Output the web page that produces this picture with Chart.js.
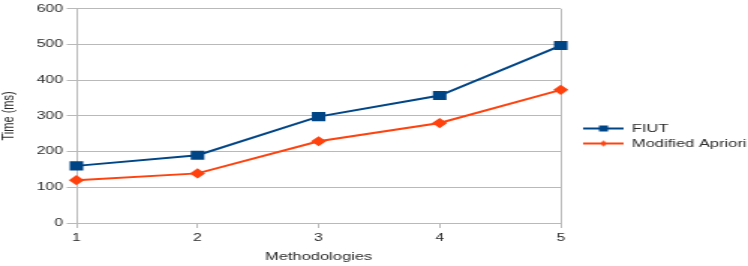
<!DOCTYPE html>
<html>
<head>
<meta charset="utf-8">
<script src="https://cdn.jsdelivr.net/npm/chart.js@4"></script>
<style>
  body { margin: 0; background: #fff; overflow: hidden; }
  /* the original figure is stretched sideways, so draw narrow and widen it */
  #wrap { width: 499px; height: 266px; transform: scaleX(1.499); transform-origin: 0 0; }
</style>
</head>
<body>
<div id="wrap"><canvas id="chart" width="499" height="266"></canvas></div>
<script>
// data
const methodologies = ['1', '2', '3', '4', '5'];
const fiutTimes = [160, 190, 298, 357, 497];
const aprioriTimes = [120, 139, 229, 280, 373];
const yTicks = [0, 100, 200, 300, 400, 500, 600];

const blue = '#004586';
const orange = '#ff420e';
const gridGray = '#b9b9b9';
const textGray = '#2b2b2b';

// little line+marker pictures for the legend
function legendIcon(color, style) {
    const c = document.createElement('canvas');
    c.width = 27;
    c.height = 10;
    const g = c.getContext('2d');
    g.strokeStyle = color;
    g.lineWidth = 2;
    g.beginPath();
    g.moveTo(0, 5);
    g.lineTo(27, 5);
    g.stroke();
    g.fillStyle = color;
    if (style === 'rect') {
        g.fillRect(10.5, 2, 6, 6);
    } else {
        g.beginPath();
        g.moveTo(13.5, 2); g.lineTo(16, 5); g.lineTo(13.5, 8); g.lineTo(11, 5);
        g.closePath();
        g.fill();
    }
    return c;
}

// move the legend a bit right and down, like the original
const legendShift = {
    id: 'legendShift',
    afterLayout(chart) {
        const lg = chart.legend;
        lg.left += 11; lg.right += 11;
        lg.top += 3; lg.bottom += 3;
    }
};

const ctx = document.getElementById('chart').getContext('2d');
new Chart(ctx, {
    type: 'line',
    data: {
        labels: methodologies,
        datasets: [
            {
                label: 'FIUT',
                data: fiutTimes,
                borderColor: blue,
                backgroundColor: blue,
                borderWidth: 2,
                pointStyle: 'rect',
                pointRadius: 5,
                pointHoverRadius: 5,
                tension: 0
            },
            {
                label: 'Modified Apriori',
                data: aprioriTimes,
                borderColor: orange,
                backgroundColor: orange,
                borderWidth: 2,
                pointStyle: 'rectRot',
                pointRadius: 3.7,
                pointHoverRadius: 3.7,
                tension: 0
            }
        ]
    },
    plugins: [legendShift],
    options: {
        responsive: false,
        animation: false,
        layout: { padding: { top: 0, right: 2, left: 0, bottom: 0 } },
        scales: {
            x: {
                offset: false,
                afterFit: (axis) => { axis.height = 43; },
                grid: {
                    color: (c) => (c.index === methodologies.length - 1 ? gridGray : 'rgba(0,0,0,0)'),
                    tickColor: gridGray,
                    tickLength: 5,
                    lineWidth: 1
                },
                border: { color: gridGray, width: 1 },
                ticks: {
                    color: textGray,
                    font: { family: 'Liberation Sans', size: 10.5 },
                    padding: 4
                },
                title: {
                    display: true,
                    text: 'Methodologies',
                    color: textGray,
                    font: { family: 'Liberation Sans', size: 11 },
                    padding: { top: 0, bottom: 2 }
                }
            },
            y: {
                min: 0,
                max: 600,
                afterBuildTicks: (axis) => { axis.ticks = yTicks.map(v => ({ value: v })); },
                afterFit: (axis) => { axis.width = 51; },
                grid: {
                    color: gridGray,
                    tickColor: gridGray,
                    tickLength: 6.5,
                    lineWidth: 1
                },
                border: { color: gridGray, width: 1 },
                ticks: {
                    color: textGray,
                    font: { family: 'Liberation Sans', size: 10.5 },
                    padding: 2.5
                },
                title: {
                    display: true,
                    text: 'Time (ms)',
                    color: textGray,
                    font: { family: 'Liberation Sans', size: 11, lineHeight: 1 },
                    padding: { top: 0, bottom: 0 }
                }
            }
        },
        plugins: {
            legend: {
                position: 'right',
                labels: {
                    usePointStyle: true,
                    pointStyleWidth: 27,
                    color: textGray,
                    font: { family: 'Liberation Sans', size: 11 },
                    padding: 4,
                    generateLabels: (chart) => chart.data.datasets.map((ds, i) => ({
                        text: ds.label,
                        pointStyle: legendIcon(ds.borderColor, i === 0 ? 'rect' : 'diamond'),
                        fontColor: textGray,
                        lineWidth: 0,
                        strokeStyle: 'rgba(0,0,0,0)',
                        fillStyle: ds.borderColor,
                        datasetIndex: i
                    }))
                }
            },
            tooltip: { enabled: false }
        }
    }
});
</script>
</body>
</html>
